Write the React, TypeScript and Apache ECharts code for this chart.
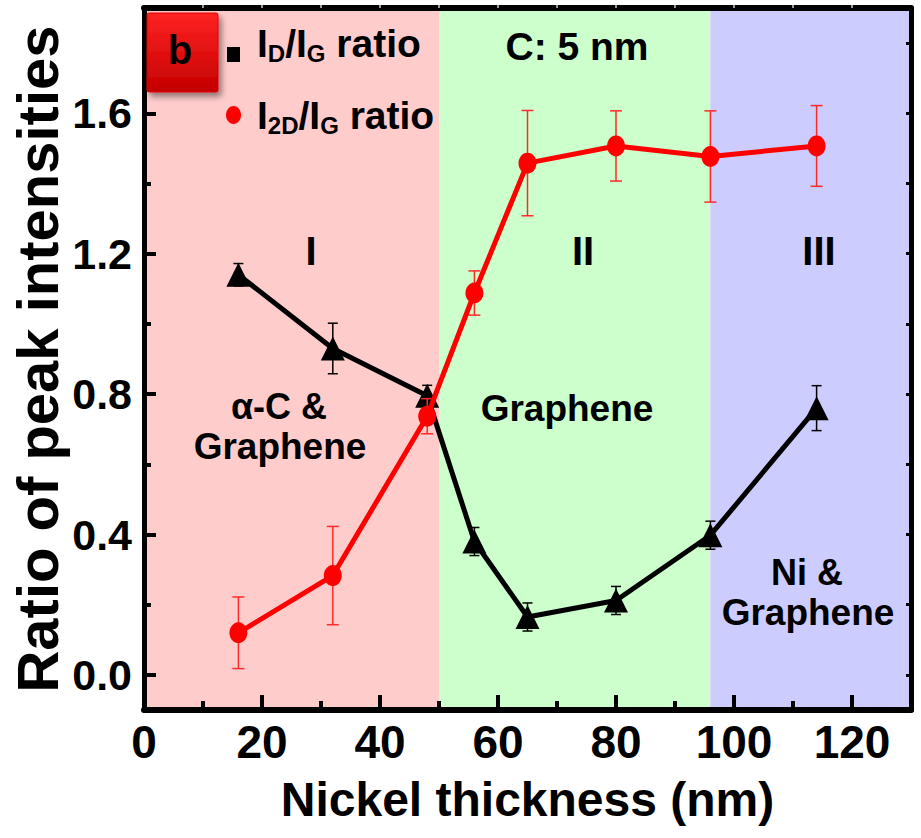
import React, { useEffect, useRef } from "react";
import * as echarts from "echarts";

// ---- data ----
const thickness = [16, 32, 48, 56, 65, 80, 96, 114];
const idIgRatio = [1.14, 0.93, 0.795, 0.38, 0.165, 0.212, 0.398, 0.76];
const idIgError = [0.032, 0.072, 0.03, 0.04, 0.04, 0.04, 0.04, 0.064];
const i2dIgRatio = [0.12, 0.283, 0.737, 1.088, 1.458, 1.507, 1.477, 1.507];
const i2dIgError = [0.102, 0.14, 0.05, 0.063, 0.15, 0.1, 0.13, 0.115];
const xTicks = [0, 20, 40, 60, 80, 100, 120];
const xMinorTicks = [10, 30, 50, 70, 90, 110];
const xTopTicks = [10, 20, 30, 40, 50, 60, 70, 80, 90, 100, 110, 120];
const yTicks = [0, 0.4, 0.8, 1.2, 1.6];
const yMinorTicks = [0.2, 0.6, 1.0, 1.4, 1.8];
const yRightTicks = [0, 0.2, 0.4, 0.6, 0.8, 1.0, 1.2, 1.4, 1.6, 1.8];
const regionBounds = [0, 50, 96, 130];
const regionNames = ["I", "II", "III"];

// ---- styles ----
const SANS = "'Liberation Sans', Arial, Helvetica, sans-serif";
const regionColors = ["#FFCCCC", "#CCFFCC", "#CCCCFF"];
const GRID = { left: 144, right: 10, top: 8, bottom: 128, outerBoundsMode: "none" } as any;

function errorBarItem(color: string, capHalf: number, width: number) {
  return (params: any, api: any) => {
    const x = api.value(0);
    const lo = api.value(1);
    const hi = api.value(2);
    const pLo = api.coord([x, lo]);
    const pHi = api.coord([x, hi]);
    const st = { stroke: color, lineWidth: width };
    return {
      type: "group",
      children: [
        { type: "line", shape: { x1: pLo[0], y1: pLo[1], x2: pHi[0], y2: pHi[1] }, style: st },
        { type: "line", shape: { x1: pLo[0] - capHalf, y1: pLo[1], x2: pLo[0] + capHalf, y2: pLo[1] }, style: st },
        { type: "line", shape: { x1: pHi[0] - capHalf, y1: pHi[1], x2: pHi[0] + capHalf, y2: pHi[1] }, style: st },
      ],
    };
  };
}

function textEl(text: string, x: number, y: number, size: number) {
  return {
    type: "text",
    x,
    y,
    z: 20,
    style: {
      text,
      fill: "#000",
      font: `bold ${size}px ${SANS}`,
      align: "center",
      verticalAlign: "middle",
    },
  };
}

const legendRich = {
  m: { font: `bold 39px ${SANS}`, lineHeight: 44, fill: "#000" },
  s: { font: `bold 24px ${SANS}`, lineHeight: 26, verticalAlign: "bottom", fill: "#000" },
};

export default function App() {
  const ref = useRef<HTMLDivElement>(null);

  useEffect(() => {
    if (!ref.current) return;
    const chart = echarts.init(ref.current, undefined, { renderer: "svg" });

    const blackData = thickness.map((t, i) => [t, idIgRatio[i]]);
    const redData = thickness.map((t, i) => [t, i2dIgRatio[i]]);
    const blackErr = thickness.map((t, i) => [t, idIgRatio[i] - idIgError[i], idIgRatio[i] + idIgError[i]]);
    const redErr = thickness.map((t, i) => [t, i2dIgRatio[i] - i2dIgError[i], i2dIgRatio[i] + i2dIgError[i]]);

    const areas = regionNames.map((n, i) => [
      { name: "", xAxis: regionBounds[i], itemStyle: { color: regionColors[i] } },
      { xAxis: regionBounds[i + 1] },
    ]);

    const tickFont = { color: "#000", fontFamily: SANS, fontWeight: "bold" };

    const option: any = {
      animation: false,
      backgroundColor: "#fff",
      grid: [GRID, GRID],
      xAxis: [
        {
          type: "value",
          gridIndex: 0,
          position: "bottom",
          min: 0,
          max: 130,
          z: 10,
          axisLine: { show: true, onZero: false, lineStyle: { color: "#000", width: 6 } },
          axisTick: { show: true, inside: true, length: 15, lineStyle: { color: "#000", width: 4 }, customValues: xTicks },
          axisLabel: { ...tickFont, fontSize: 46, margin: 9, customValues: xTicks },
          splitLine: { show: false },
          name: "Nickel thickness (nm)",
          nameLocation: "middle",
          nameGap: 65,
          nameMoveOverlap: false,
          nameTextStyle: { ...tickFont, fontSize: 48 },
        },
        {
          type: "value",
          gridIndex: 0,
          position: "top",
          min: 0,
          max: 130,
          z: 10,
          axisLine: { show: true, onZero: false, lineStyle: { color: "#000", width: 6 } },
          axisTick: { show: true, inside: false, length: 3, lineStyle: { color: "#999", width: 2 }, customValues: xTopTicks },
          axisLabel: { show: false },
          splitLine: { show: false },
        },
        {
          type: "value",
          gridIndex: 1,
          position: "bottom",
          min: 0,
          max: 130,
          z: 10,
          axisLine: { show: false, onZero: false },
          axisTick: { show: true, inside: true, length: 9, lineStyle: { color: "#000", width: 4 }, customValues: xMinorTicks },
          axisLabel: { show: false },
          splitLine: { show: false },
        },
      ],
      yAxis: [
        {
          type: "value",
          gridIndex: 0,
          position: "left",
          min: -0.1,
          max: 1.9,
          z: 10,
          axisLine: { show: true, onZero: false, lineStyle: { color: "#000", width: 5 } },
          axisTick: { show: true, inside: true, length: 12, lineStyle: { color: "#000", width: 4 }, customValues: yTicks },
          axisLabel: { ...tickFont, fontSize: 43, margin: 12, customValues: yTicks, formatter: (v: number) => v.toFixed(1) },
          splitLine: { show: false },
          name: "Ratio of peak intensities",
          nameLocation: "middle",
          nameGap: 78,
          nameMoveOverlap: false,
          nameTextStyle: { color: "#000", fontFamily: SANS, fontWeight: "bold", fontSize: 58 },
        },
        {
          type: "value",
          gridIndex: 0,
          position: "right",
          min: -0.1,
          max: 1.9,
          z: 10,
          axisLine: { show: true, onZero: false, lineStyle: { color: "#000", width: 5 } },
          axisTick: { show: true, inside: true, length: 5, lineStyle: { color: "#000", width: 3 }, customValues: yRightTicks },
          axisLabel: { show: false },
          splitLine: { show: false },
        },
        {
          type: "value",
          gridIndex: 1,
          position: "left",
          min: -0.1,
          max: 1.9,
          z: 10,
          axisLine: { show: false, onZero: false },
          axisTick: { show: true, inside: true, length: 7, lineStyle: { color: "#000", width: 4 }, customValues: yMinorTicks },
          axisLabel: { show: false },
          splitLine: { show: false },
        },
      ],
      series: [
        {
          name: "regions",
          type: "line",
          xAxisIndex: 0,
          yAxisIndex: 0,
          data: [],
          z: 1,
          silent: true,
          markArea: { silent: true, data: areas },
        },
        {
          name: "ID/IG error",
          type: "custom",
          xAxisIndex: 0,
          yAxisIndex: 0,
          z: 2,
          data: blackErr,
          encode: { x: 0, y: [1, 2] },
          renderItem: errorBarItem("#000", 5, 1.5),
        },
        {
          name: "ID/IG ratio",
          type: "line",
          xAxisIndex: 0,
          yAxisIndex: 0,
          z: 3,
          data: blackData,
          symbol: "triangle",
          symbolSize: [24, 24],
          lineStyle: { color: "#000", width: 5 },
          itemStyle: { color: "#000" },
        },
        {
          name: "I2D/IG error",
          type: "custom",
          xAxisIndex: 0,
          yAxisIndex: 0,
          z: 4,
          data: redErr,
          encode: { x: 0, y: [1, 2] },
          renderItem: errorBarItem("#ff2a2a", 6, 1.5),
        },
        {
          name: "I2D/IG ratio",
          type: "line",
          xAxisIndex: 0,
          yAxisIndex: 0,
          z: 5,
          data: redData,
          symbol: "circle",
          symbolSize: [18, 21],
          lineStyle: { color: "#ff0000", width: 5 },
          itemStyle: { color: "#ff0000" },
        },
      ],
      graphic: [
        {
          type: "rect",
          z: 20,
          shape: { x: 147, y: 13, width: 71, height: 79, r: 2 },
          style: {
            fill: new echarts.graphic.LinearGradient(0, 0, 0, 1, [
              { offset: 0, color: "#ff2222" },
              { offset: 1, color: "#c40000" },
            ]),
            stroke: "#e00000",
            lineWidth: 1,
            shadowBlur: 6,
            shadowOffsetX: 3,
            shadowOffsetY: 4,
            shadowColor: "rgba(0,0,0,0.45)",
          },
        },
        textEl("b", 180, 50, 40),
        { type: "rect", z: 20, shape: { x: 227, y: 47, width: 13, height: 15 }, style: { fill: "#000" } },
        {
          type: "text",
          z: 20,
          x: 257,
          y: 43,
          style: { text: "{m|I}{s|D}{m|/I}{s|G}{m| ratio}", rich: legendRich, align: "left", verticalAlign: "middle" },
        },
        { type: "ellipse", z: 20, shape: { cx: 233.5, cy: 115, rx: 7.5, ry: 9 }, style: { fill: "#ff0000" } },
        {
          type: "text",
          z: 20,
          x: 257,
          y: 115,
          style: { text: "{m|I}{s|2D}{m|/I}{s|G}{m| ratio}", rich: legendRich, align: "left", verticalAlign: "middle" },
        },
        textEl("C: 5 nm", 577, 46, 39),
        textEl(regionNames[0], 311, 251, 40),
        textEl(regionNames[1], 583, 251, 40),
        textEl(regionNames[2], 819, 251, 40),
        textEl("α-C &", 279, 406, 36),
        textEl("Graphene", 280, 446, 37),
        textEl("Graphene", 567, 408, 37),
        textEl("Ni &", 807, 572, 36),
        textEl("Graphene", 808, 612, 37),
      ],
    };

    chart.setOption(option);
    return () => chart.dispose();
  }, []);

  return (
    <div style={{ position: "absolute", left: 0, top: 0, width: 921, height: 838, overflow: "hidden" }}>
      <div ref={ref} style={{ width: 921, height: 838 }} />
    </div>
  );
}
